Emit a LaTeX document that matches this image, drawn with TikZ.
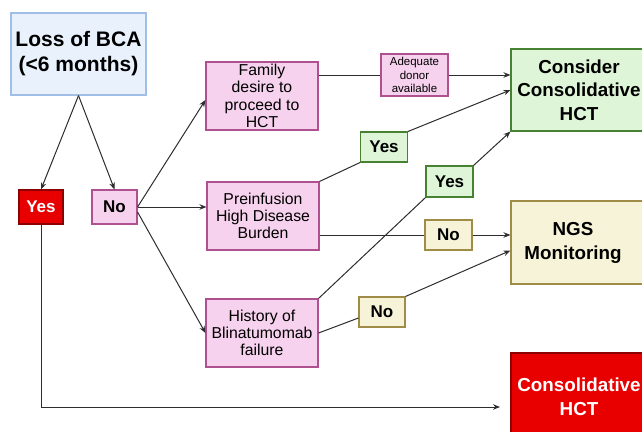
\documentclass[tikz,border=0pt]{standalone}
\usepackage{fontspec}
\setmainfont{Liberation Sans}
\usetikzlibrary{arrows.meta}
\definecolor{lossfill}{RGB}{232,241,252}
\definecolor{lossline}{RGB}{160,190,230}
\definecolor{pinkfill}{RGB}{247,210,238}
\definecolor{pinkline}{RGB}{175,80,145}
\definecolor{greenfill}{RGB}{222,245,216}
\definecolor{greenline}{RGB}{70,130,50}
\definecolor{yelfill}{RGB}{246,243,216}
\definecolor{yelline}{RGB}{160,140,70}
\definecolor{redfill}{RGB}{232,0,0}
\definecolor{redline}{RGB}{140,0,0}
\definecolor{linkgray}{RGB}{45,45,45}

\begin{document}
\begin{tikzpicture}[x=1pt, y=-1pt,
  box/.style={draw, line width=1.1pt, inner sep=0pt, align=center},
  pinkbox/.style={box, fill=pinkfill, draw=pinkline,
    minimum width=112pt, minimum height=68pt, font=\fontsize{15.8}{17.3}\selectfont},
  greenbox/.style={box, fill=greenfill, draw=greenline},
  yelbox/.style={box, fill=yelfill, draw=yelline},
  redbox/.style={box, fill=redfill, draw=redline, text=white},
  answer/.style={minimum width=47pt, minimum height=30pt, font=\fontsize{17}{19}\selectfont\bfseries},
  result/.style={minimum width=136pt, font=\fontsize{18.8}{23.5}\selectfont\bfseries},
  link/.style={draw=linkgray, line width=1pt},
  arr/.style={link, -{Stealth[length=7pt, width=5.5pt]}}]
  \useasboundingbox (0,0) rectangle (642,431);

  \node[box, fill=lossfill, draw=lossline, minimum width=135pt, minimum height=82pt,
    font=\fontsize{21}{25}\selectfont\bfseries] (loss) at (78.5,54) {Loss of BCA\\(<6 months)};
  \node[redbox, answer, minimum width=44pt, minimum height=34pt] (yes) at (41,207) {Yes};
  \node[box, fill=pinkfill, draw=pinkline, answer, minimum width=45pt, minimum height=34pt] (no) at (114.5,207) {No};

  \node[pinkbox] (family) at (262,96) {Family\\desire to\\proceed to\\HCT};
  \node[pinkbox] (burden) at (263,216) {Preinfusion\\High Disease\\Burden};
  \node[pinkbox] (blina) at (262,333) {History of\\Blinatumomab\\failure};
  \node[box, fill=pinkfill, draw=pinkline, minimum width=67pt, minimum height=42pt,
    font=\fontsize{11.5}{13.3}\selectfont] (donor) at (414.5,75) {Adequate\\donor\\available};

  \node[greenbox, answer] (yesa) at (384,147) {Yes};
  \node[greenbox, answer, minimum height=31pt] (yesb) at (449.5,181.5) {Yes};
  \node[yelbox, answer] (noa) at (448.5,235) {No};
  \node[yelbox, answer, minimum width=46pt] (nob) at (382,312) {No};

  \node[greenbox, result, minimum height=82pt] (consider) at (579,90) {Consider\\Consolidative\\HCT};
  \node[yelbox, result, minimum height=83pt] (ngs) at (579,242.5) {};
  \node[result, inner sep=0pt, align=center] (ngstext) at (573,243) {NGS\\Monitoring};
  \node[redbox, result, minimum height=88pt] (hct) at (579,397) {Consolidative\\HCT};
  \coordinate (hctin) at (500,407);

  \draw[arr] (loss.south) -- (yes.north);
  \draw[arr] (loss.south) -- (no.north);
  \draw[arr] (yes.south) |- (hctin);
  \draw[arr] (no.east) -- ([yshift=-4pt]family.west);
  \draw[arr] (no.east) -- (no.east -| burden.west);
  \draw[arr] ([yshift=-5pt]no.east) -- (blina.west);

  \draw[link] (donor.west -| family.east) -- (donor.west);
  \draw[arr] (donor.east) -- (donor.east -| consider.west);
  \draw[link] (burden.north east) -- (yesa.south west);
  \draw[arr] (yesa.north east) -- (consider.west);
  \draw[link] (blina.north east) -- (yesb.south west);
  \draw[arr] (yesb.north east) -- (consider.south west);

  \draw[link] (noa.west -| burden.east) -- (noa.west);
  \draw[arr] (noa.east) -- (noa.east -| ngs.west);
  \draw[link] (blina.east) -- ([yshift=-6pt]nob.west);
  \draw[arr] (nob.north east) -- ([yshift=-8pt]ngs.west);
\end{tikzpicture}
\end{document}
